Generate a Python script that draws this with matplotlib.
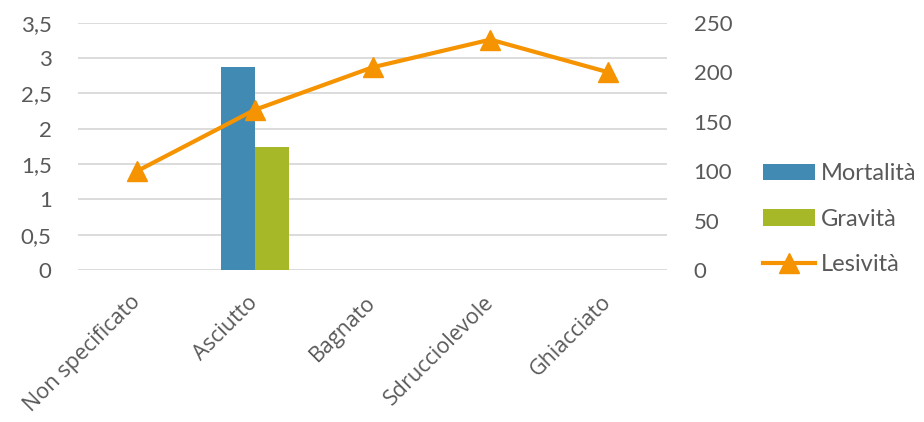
import matplotlib.pyplot as plt
import numpy as np

categories = ["Non specificato", "Asciutto", "Bagnato", "Sdrucciolevole", "Ghiacciato"]
mortalita = [0, 2.88, 0, 0, 0]
gravita = [0, 1.74, 0, 0, 0]
lesivita = [100, 162, 205, 233, 200]

left_ticks = [0, 0.5, 1, 1.5, 2, 2.5, 3, 3.5]
left_labels = ["0", "0,5", "1", "1,5", "2", "2,5", "3", "3,5"]
right_ticks = [0, 50, 100, 150, 200, 250]

blue = "#418AB3"
green = "#A6B727"
orange = "#F59300"
grey = "#595959"

plt.rcParams['font.family'] = ['Lato', 'DejaVu Sans']
fs = 16

fig = plt.figure(figsize=(9.24, 4.22), dpi=100)
ax = fig.add_axes([0.0844, 0.360, 0.6376, 0.586])
x = np.arange(len(categories))
w = 0.29

b1 = ax.bar(x - w / 2, mortalita, w, color=blue, label="Mortalità", zorder=2)
b2 = ax.bar(x + w / 2, gravita, w, color=green, label="Gravità", zorder=2)

ax.set_xlim(-0.5, len(categories) - 0.5)
ax.set_ylim(0, 3.5)
ax.set_yticks(left_ticks)
ax.set_yticklabels(left_labels)
ax.grid(axis='y', color="#d9d9d9", linewidth=1.3, zorder=0)
ax.set_axisbelow(True)
for s in ax.spines.values():
    s.set_visible(False)
ax.tick_params(axis='both', length=0, colors=grey, labelsize=fs)
ax.tick_params(axis='y', pad=19)
ax.set_xticks(x)
ax.set_xticklabels(categories, rotation=45, ha='right', va='center',
                   rotation_mode='anchor', fontfamily='Open Sans',
                   fontsize=15.5)
ax.tick_params(axis='x', pad=21)

ax2 = ax.twinx()
ln, = ax2.plot(x, lesivita, color=orange, linewidth=3, marker='^', markersize=14,
               label="Lesività")
ax2.set_ylim(0, 250)
ax2.set_yticks(right_ticks)
for s in ax2.spines.values():
    s.set_visible(False)
ax2.tick_params(axis='y', length=0, colors=grey, labelsize=fs, pad=19)

fig.legend([b1, b2, ln], ["Mortalità", "Gravità", "Lesività"],
           loc='center left', bbox_to_anchor=(0.8026, 0.481), frameon=False,
           handlelength=2.2, handletextpad=0.25, labelspacing=1.03,
           labelcolor=grey, fontsize=17)

fig.savefig("out.png", dpi=100)
